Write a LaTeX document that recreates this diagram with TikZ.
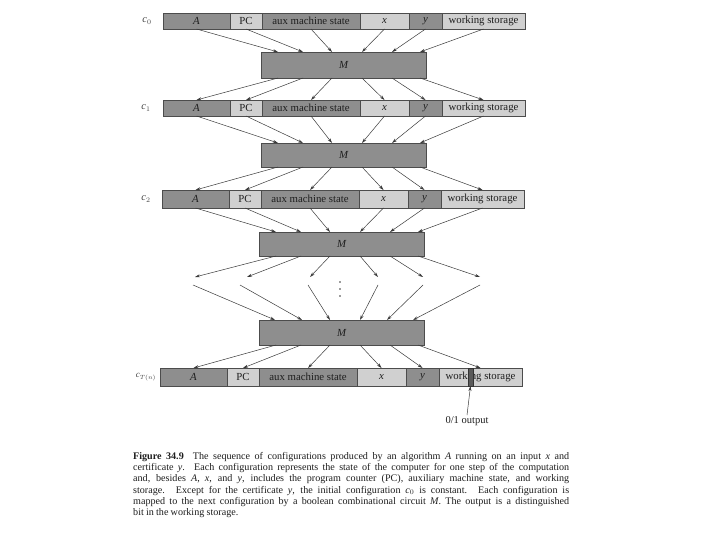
\documentclass[tikz,border=0pt]{standalone}
\usepackage{fontspec}
\setmainfont{Liberation Serif}
\usetikzlibrary{arrows.meta}
\definecolor{dk}{HTML}{8E8E8E}
\definecolor{lt}{HTML}{D0D0D0}
\definecolor{ink}{HTML}{1E1E1E}
\definecolor{ln}{HTML}{3A3A3A}
\definecolor{bitc}{HTML}{5A5A5A}
\tikzset{
 seg/.style={draw=gray!60!black, line width=0.4pt, inner sep=0pt, outer sep=0pt, anchor=north west, text=ink, font=\fontsize{10.8}{12}\selectfont},
 dseg/.style={seg, fill=dk},
 lseg/.style={seg, fill=lt},
 mbox/.style={draw=gray!60!black, fill=dk, line width=0.4pt, anchor=north west, minimum width=165pt, inner sep=0pt, outer sep=0pt, font=\fontsize{10.8}{12}\selectfont\itshape, text=ink},
 arr/.style={draw=ln, line width=0.5pt, -{Stealth[length=5pt,width=3pt]}},
 rowlbl/.style={font=\fontsize{10.5}{12}\selectfont, text=gray!55!black, inner sep=0pt},
}
\newcommand\cfgrow[4]{%
 \node[dseg, minimum width=67pt, minimum height=#4pt] (#1A) at (#2,#3) {\textit{A}};
 \node[lseg, minimum width=32pt, minimum height=#4pt] (#1PC) at (#1A.north east) {PC};
 \node[dseg, minimum width=98pt, minimum height=#4pt] (#1aux) at (#1PC.north east) {aux machine state};
 \node[lseg, minimum width=49pt, minimum height=#4pt] (#1x) at (#1aux.north east) {\textit{x}};
 \node[dseg, minimum width=33pt, minimum height=#4pt] (#1y) at (#1x.north east) {\textit{y}};
 \node[lseg, minimum width=83pt, minimum height=#4pt] (#1ws) at (#1y.north east) {working storage};
}
\newcommand\rowtoM[2]{%
 \foreach \s/\o in {A/17,PC/42,aux/71,x/101,y/131,ws/159}
   \draw[arr] (#1\s.south) -- ([xshift=\o pt]#2.north west);
}
\newcommand\Mtorow[2]{%
 \foreach \s/\o in {A/17,PC/42,aux/71,x/101,y/131,ws/159}
   \draw[arr] ([xshift=\o pt]#1.south west) -- (#2\s.north);
}
\begin{document}
\begin{tikzpicture}[x=1pt,y=-1pt]
\useasboundingbox[fill=white] (0,0) rectangle (720,540);

% configuration rows
\cfgrow{r0}{163}{13}{16}
\cfgrow{r1}{163}{100}{16}
\cfgrow{r2}{162}{190}{18}
\cfgrow{r3}{160}{368}{18}

% row labels
\node[rowlbl] (l0) at (147,21) {\textit{c}$_0$};
\node[rowlbl] (l1) at (146,108) {\textit{c}$_1$};
\node[rowlbl] (l2) at (146,199) {\textit{c}$_2$};
\node[rowlbl, font=\fontsize{9}{10}\selectfont] (l3) at (146,377) {\textit{c}$_{T(n)}$};

% circuits
\node[mbox, minimum height=26pt] (M1) at (261,52) {M};
\node[mbox, minimum height=24pt] (M2) at (261,143) {M};
\node[mbox, minimum height=24pt] (M3) at (259,232) {M};
\node[mbox, minimum height=25pt] (M4) at (259,320) {M};

\rowtoM{r0}{M1}
\Mtorow{M1}{r1}
\rowtoM{r1}{M2}
\Mtorow{M2}{r2}
\rowtoM{r2}{M3}

% free ends around the ellipsis
\coordinate (f1) at (195,277);
\coordinate (f2) at (247,277);
\coordinate (f3) at (310,277);
\coordinate (f4) at (378,277);
\coordinate (f5) at (423,277);
\coordinate (f6) at (480,277);
\coordinate (g1) at (193,285);
\coordinate (g2) at (240,285);
\coordinate (g3) at (308,285);
\coordinate (g4) at (378,285);
\coordinate (g5) at (423,285);
\coordinate (g6) at (480,285);
\foreach \i/\o in {1/17,2/42,3/71,4/101,5/131,6/159}
  \draw[arr] ([xshift=\o pt]M3.south west) -- (f\i);
\foreach \i/\o in {1/16,2/43,3/71,4/101,5/128,6/154}
  \draw[arr] (g\i) -- ([xshift=\o pt]M4.north west);
\foreach \d in {282,289,296} \fill[ln] (340,\d) circle (0.9);

\Mtorow{M4}{r3}

% output bit
\node[fill=bitc, draw=gray!40!black, line width=0.3pt, minimum width=5pt, minimum height=18pt, inner sep=0pt, outer sep=0pt, anchor=north west] (bit) at (468,368) {};
\node[font=\fontsize{10.5}{12}\selectfont, text=ink, inner sep=1pt] (out) at (467,421) {0/1 output};
\draw[arr] (out.north) -- (bit.south);

% caption
\node[anchor=north west, inner sep=0pt, text=ink] (cap) at (133,452) {\parbox{436pt}{\fontsize{10.1}{11.3}\selectfont\parindent0pt
\spaceskip=0.22em plus 0.3em minus 0.08em
\textbf{Figure 34.9}\hspace{0.9em}The sequence of configurations produced by an algorithm \textit{A} running on an input \textit{x} and\linebreak
certificate \textit{y}. Each configuration represents the state of the computer for one step of the computation\linebreak
and, besides \textit{A}, \textit{x}, and \textit{y}, includes the program counter (PC), auxiliary machine state, and working\linebreak
storage. Except for the certificate \textit{y}, the initial configuration \textit{c}$_0$ is constant. Each configuration is\linebreak
mapped to the next configuration by a boolean combinational circuit \textit{M}. The output is a distinguished\linebreak
bit in the working storage.}};
\end{tikzpicture}
\end{document}
